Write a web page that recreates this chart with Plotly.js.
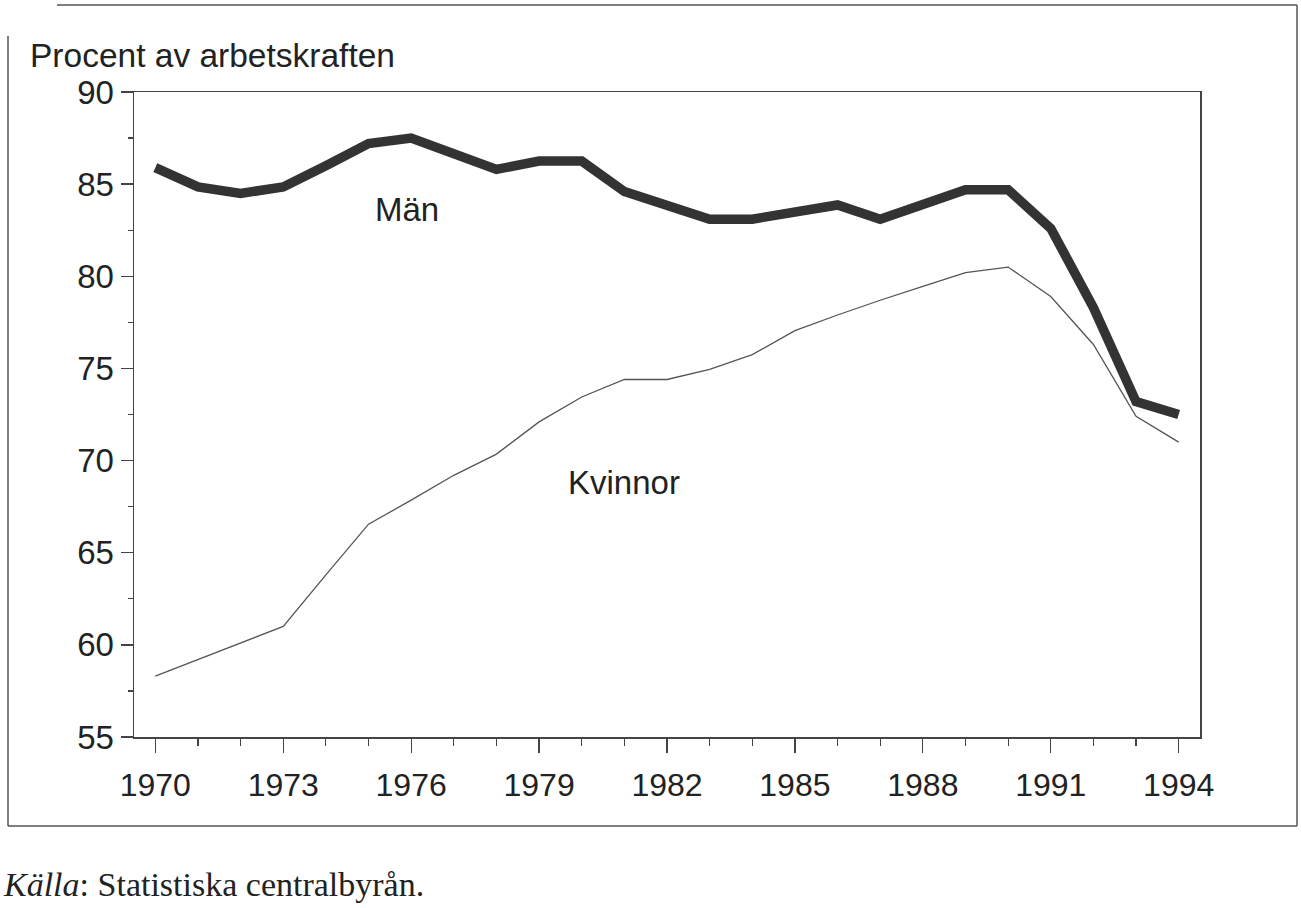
<!DOCTYPE html>
<html>
<head>
<meta charset="utf-8">
<script src="https://cdn.plot.ly/plotly-3.0.1.min.js"></script>
<style>html,body{margin:0;padding:0;background:#fff;}#chart{width:1301px;height:908px;}</style>
</head>
<body>
<div id="chart"></div>
<script>
const years = [1970,1971,1972,1973,1974,1975,1976,1977,1978,1979,1980,1981,1982,1983,1984,1985,1986,1987,1988,1989,1990,1991,1992,1993,1994];
const man = [85.9,84.85,84.5,84.85,86.0,87.2,87.5,86.7,85.8,86.25,86.25,84.6,83.85,83.1,83.1,83.55,83.87,83.1,83.85,84.7,84.7,82.6,78.3,73.2,72.5];
const kvinnor = [58.3,59.2,60.1,61.0,63.8,66.55,67.85,69.2,70.35,72.1,73.45,74.4,74.4,74.95,75.75,77.05,77.9,78.7,79.45,80.2,80.5,78.9,76.3,72.4,71.0];
const xTickVals = [1970,1973,1976,1979,1982,1985,1988,1991,1994];
const yTickVals = [55,60,65,70,75,80,85,90];

const W = 1301, H = 908;
const L = 134, R = 1200, T = 92, B = 737;
const px = x => (x - L) / (R - L);
const py = y => (B - y) / (B - T);

const traces = [
  {x: years, y: kvinnor, type: 'scatter', mode: 'lines', name: 'Kvinnor',
   line: {color: '#555', width: 1.3}, hoverinfo: 'x+y'},
  {x: years, y: man, type: 'scatter', mode: 'lines', name: 'Män',
   line: {color: '#333', width: 9.5, shape: 'linear'}, hoverinfo: 'x+y'}
];

const frameColor = '#555';
const layout = {
  width: W, height: H,
  margin: {l: L, r: W - R, t: T, b: H - B, pad: 0},
  paper_bgcolor: '#fff', plot_bgcolor: '#fff',
  showlegend: false,
  font: {family: '"Liberation Sans", Arial, sans-serif', color: '#222', size: 32},
  xaxis: {
    range: [1969.5, 1994.5], showgrid: false, zeroline: false,
    showline: true, linecolor: '#444', linewidth: 1.5, mirror: true,
    ticks: 'outside', ticklen: 14, tickwidth: 1.3, tickcolor: '#444',
    tickvals: xTickVals, ticktext: xTickVals.map(String),
    tickfont: {size: 32, color: '#222'},
    ticklabelstandoff: 5,
    minor: {tickvals: years, ticks: 'outside', ticklen: 7, tickwidth: 1.2, tickcolor: '#444', showgrid: false}
  },
  yaxis: {
    range: [55, 90], showgrid: false, zeroline: false,
    showline: true, linecolor: '#444', linewidth: 1.5, mirror: true,
    ticks: 'outside', ticklen: 12, tickwidth: 1.3, tickcolor: '#444',
    tickvals: yTickVals, ticktext: yTickVals.map(String),
    tickfont: {size: 33, color: '#222'},
    minor: {dtick: 2.5, tick0: 55, ticks: 'outside', ticklen: 5, tickwidth: 1.2, tickcolor: '#444', showgrid: false}
  },
  annotations: [
    {text: 'Procent av arbetskraften', xref: 'paper', yref: 'paper',
     x: px(28), y: py(56), xanchor: 'left', yanchor: 'middle', showarrow: false,
     font: {size: 33.5, color: '#222'}},
    {text: 'Män', xref: 'x', yref: 'y', x: 1975.9, y: 83.6, showarrow: false,
     xanchor: 'center', yanchor: 'middle', font: {size: 33, color: '#222'}},
    {text: 'Kvinnor', xref: 'x', yref: 'y', x: 1981.0, y: 68.8, showarrow: false,
     xanchor: 'center', yanchor: 'middle', font: {size: 33, color: '#222'}},
    {text: '<i>Källa</i>: Statistiska centralbyrån.', xref: 'paper', yref: 'paper',
     x: px(1), y: py(884), xanchor: 'left', yanchor: 'middle', showarrow: false,
     font: {family: '"Liberation Serif", "Times New Roman", serif', size: 34, color: '#222'}}
  ],
  shapes: [
    {type: 'line', xref: 'paper', yref: 'paper', x0: px(57), y0: py(5), x1: px(1297), y1: py(5), line: {color: frameColor, width: 1.5}},
    {type: 'line', xref: 'paper', yref: 'paper', x0: px(1297), y0: py(5), x1: px(1297), y1: py(826), line: {color: frameColor, width: 1.5}},
    {type: 'line', xref: 'paper', yref: 'paper', x0: px(8), y0: py(826), x1: px(1297), y1: py(826), line: {color: frameColor, width: 1.5}},
    {type: 'line', xref: 'paper', yref: 'paper', x0: px(8), y0: py(36), x1: px(8), y1: py(826), line: {color: frameColor, width: 1.5}}
  ]
};

Plotly.newPlot('chart', traces, layout, {displayModeBar: false, staticPlot: true});
</script>
</body>
</html>
